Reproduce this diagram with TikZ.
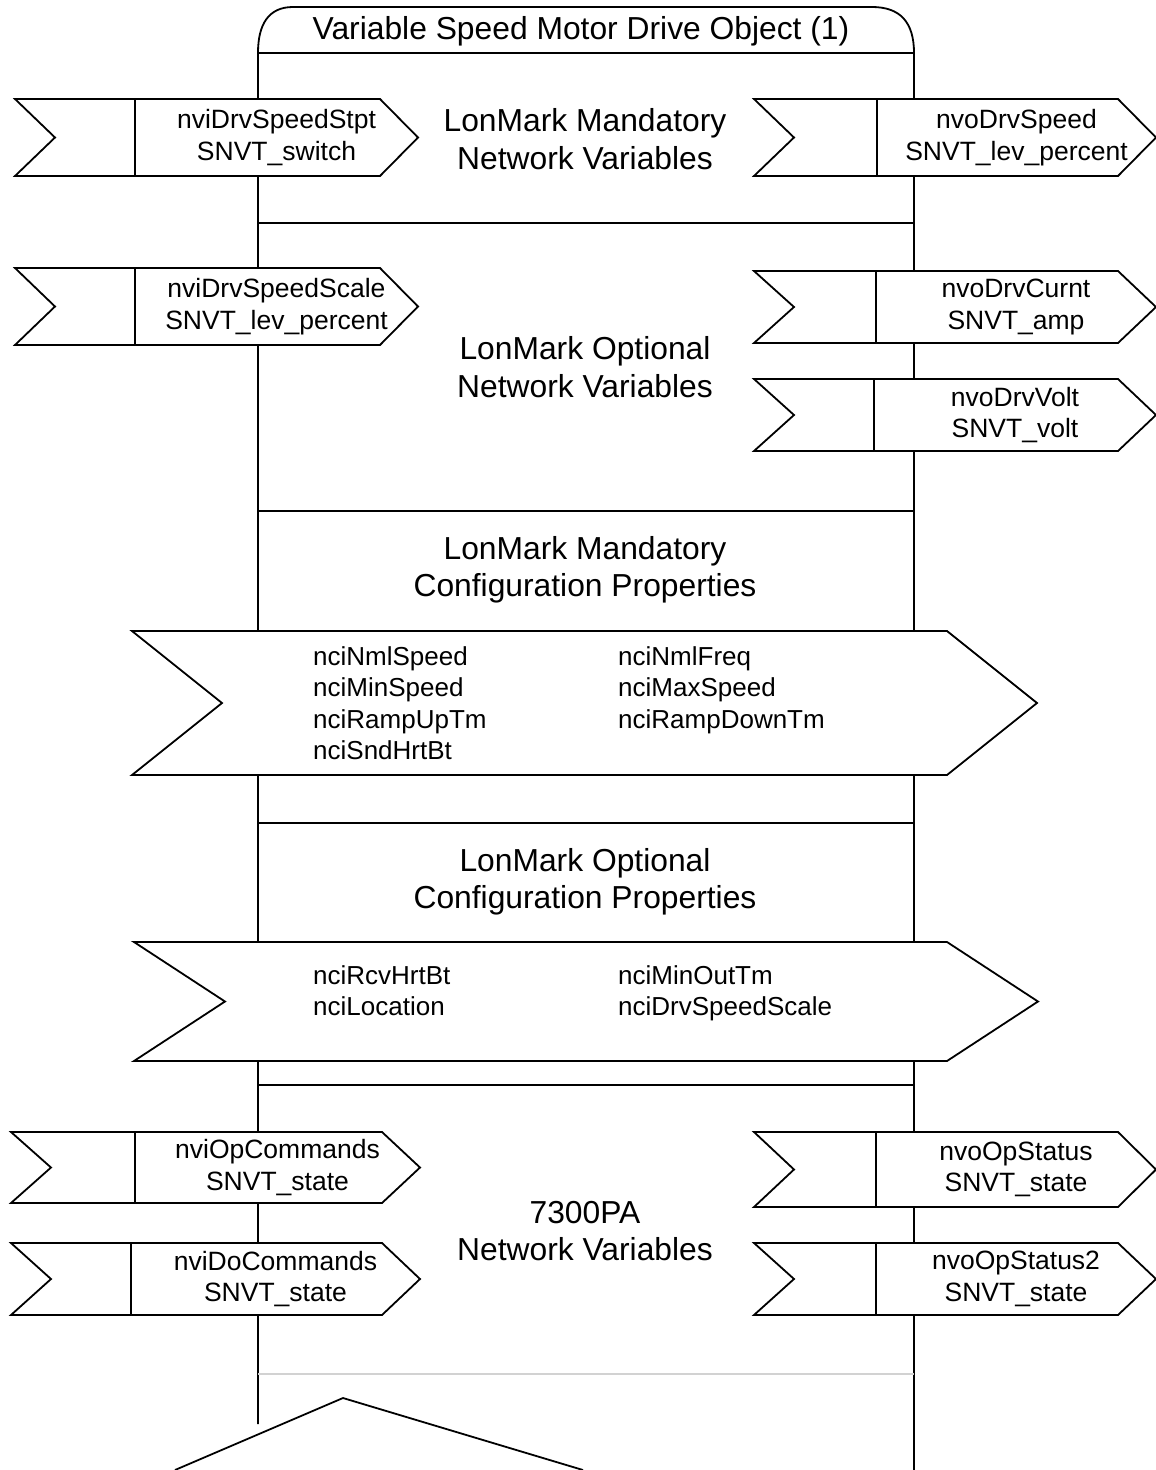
\documentclass[tikz,border=0pt]{standalone}
\usepackage{fontspec}
\setmainfont{Liberation Sans}
\tikzset{
  outline/.style={line width=1.8pt},
  nvarrow/.style={draw, fill=white, line width=1.8pt},
  nvtext/.style={font=\fontsize{26.5}{31.5}\selectfont, align=center, inner sep=0pt},
  cptext/.style={font=\fontsize{26}{31.6}\selectfont, align=left, anchor=north west, inner sep=0pt},
  secttext/.style={font=\fontsize{31.8}{37.5}\selectfont, align=center, inner sep=0pt}
}
% name, left x, top y, tip x, bottom y, divider x, text
\newcommand{\nvbox}[7]{%
  \filldraw[nvarrow] (#2,#3) -- ({#4-38},#3) -- (#4,{(#3+#5)/2}) -- ({#4-38},#5)
    -- (#2,#5) -- ({#2+40},{(#3+#5)/2}) -- cycle;
  \draw[nvarrow] (#6,#3) -- (#6,#5);
  \node[nvtext] (#1) at ({(#6+#4)/2},{(#3+#5)/2}) {#7};
}
% left x, top y, tip x, bottom y, depth
\newcommand{\cpbox}[5]{%
  \filldraw[nvarrow] (#1,#2) -- ({#3-#5},#2) -- (#3,{(#2+#4)/2}) -- ({#3-#5},#4)
    -- (#1,#4) -- ({#1+#5},{(#2+#4)/2}) -- cycle;
}
\begin{document}
\begin{tikzpicture}[x=1pt, y=-1pt]
    \useasboundingbox (0,0) rectangle (1156,1470);
    % object outline
    \draw[outline] (258,1424) -- (258,53) .. controls (258,25) and (268,7) .. (293,7)
        -- (872,7) .. controls (900,7) and (914,22) .. (914,53) -- (914,1470);
    \foreach \y in {53,223,511,823,1085}
        \draw[outline] (258,\y) -- (914,\y);
    \draw[gray!35, line width=1.5pt] (258,1374) -- (914,1374);
    \draw[outline] (175,1470) -- (343,1398) -- (583,1470);
    \node[secttext] (title) at (581,31) {Variable Speed Motor Drive Object (1)};

    % mandatory network variables
    \node[secttext] (mandnv) at (585,139) {LonMark Mandatory\\Network Variables};
    \nvbox{drvSpeedStpt}{15}{99}{418}{176}{135}{nviDrvSpeedStpt\\SNVT\_switch}
    \nvbox{drvSpeed}{754}{99}{1156}{176}{877}{nvoDrvSpeed\\SNVT\_lev\_percent}

    % optional network variables
    \node[secttext] (optnv) at (585,367) {LonMark Optional\\Network Variables};
    \nvbox{drvSpeedScale}{15}{268}{418}{345}{135}{nviDrvSpeedScale\\SNVT\_lev\_percent}
    \nvbox{drvCurnt}{754}{271}{1156}{343}{876}{nvoDrvCurnt\\SNVT\_amp}
    \nvbox{drvVolt}{754}{379}{1156}{451}{874}{nvoDrvVolt\\SNVT\_volt}

    % mandatory configuration properties
    \node[secttext] (mandcp) at (585,570) {LonMark Mandatory\\Configuration Properties};
    \cpbox{132}{631}{1037}{775}{90}
    \node[cptext] (mandcpL) at (313,646) {nciNmlSpeed\\nciMinSpeed\\nciRampUpTm\\nciSndHrtBt};
    \node[cptext] (mandcpR) at (618,646) {nciNmlFreq\\nciMaxSpeed\\nciRampDownTm};

    % optional configuration properties
    \node[secttext] (optcp) at (585,882) {LonMark Optional\\Configuration Properties};
    \cpbox{134}{942}{1038}{1061}{91}
    \node[cptext] (optcpL) at (313,965) {nciRcvHrtBt\\nciLocation};
    \node[cptext] (optcpR) at (618,965) {nciMinOutTm\\nciDrvSpeedScale};

    % 7300PA network variables
    \node[secttext] (panv) at (585,1231) {7300PA\\Network Variables};
    \nvbox{opCommands}{11}{1132}{420}{1203}{135}{nviOpCommands\\SNVT\_state}
    \nvbox{doCommands}{11}{1243}{420}{1315}{131}{nviDoCommands\\SNVT\_state}
    \nvbox{opStatus}{754}{1132}{1156}{1207}{876}{nvoOpStatus\\SNVT\_state}
    \nvbox{opStatusB}{754}{1243}{1156}{1315}{876}{nvoOpStatus2\\SNVT\_state}
\end{tikzpicture}
\end{document}
